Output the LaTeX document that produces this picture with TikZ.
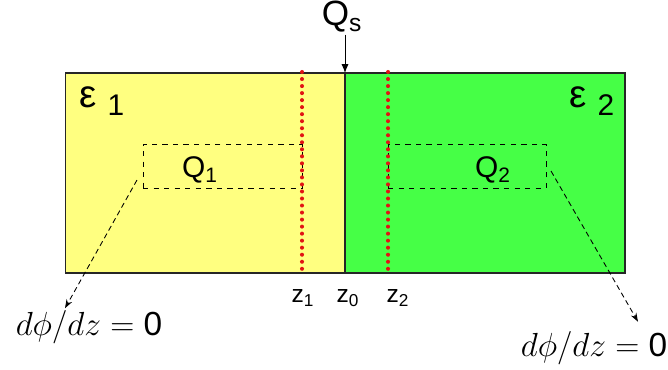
\documentclass[tikz,border=0pt]{standalone}
\usepackage{fix-cm}
\usepackage{fontspec}
\setmainfont{Liberation Sans}
\usetikzlibrary{arrows.meta,positioning}
\definecolor{mediumone}{RGB}{255,255,128}
\definecolor{mediumtwo}{RGB}{70,255,70}
\definecolor{planered}{RGB}{225,20,20}

\begin{document}
\begin{tikzpicture}[
            x=0.02cm, y=-0.02cm,
            medium/.style={rectangle, draw=black!85, line width=0.6pt, minimum width=5.6cm, minimum height=4cm, inner sep=0pt},
            region/.style={rectangle, draw, dashed, line width=0.5pt, minimum height=0.88cm, inner sep=0pt},
            plane/.style={draw=planered, line width=2.3pt, line cap=round, dash pattern=on 0pt off 4pt},
            lbl/.style={font=\fontsize{17}{19}\selectfont, inner sep=1pt},
            zlbl/.style={font=\fontsize{14}{16}\selectfont, inner sep=1pt},
            cond/.style={font=\fontsize{19}{21}\selectfont, inner sep=1pt},
            arrow/.style={-{Latex[length=5pt,width=4pt]}, line width=0.5pt},
            hint/.style={-{Stealth[length=5pt,width=3.5pt]}, densely dashed, line width=0.5pt}
        ]
            \useasboundingbox (0,0) rectangle (668,369);

            % --- MEIOS ---
            \node[medium, fill=mediumone] (left) at (205,173) {};
            \node[medium, fill=mediumtwo] (right) at (485,173) {};
            \node[lbl] (eps1) at (102,101) {{\fontsize{22}{24}\selectfont ε}\hspace{6pt}\raisebox{-5pt}{1}};
            \node[lbl] (eps2) at (592,101) {{\fontsize{22}{24}\selectfont ε}\hspace{6pt}\raisebox{-5pt}{2}};

            % --- REGIOES ---
            \node[region, minimum width=3.18cm] (box1) at (222.5,166) {};
            \node[region, minimum width=3.16cm] (box2) at (467,166) {};
            \node[lbl] (q1) at (200,170) {Q\textsubscript{1}};
            \node[lbl] (q2) at (493,170) {Q\textsubscript{2}};

            % --- PLANOS ---
            \draw[plane] (302,72) -- (302,272);
            \draw[plane] (388,72) -- (388,272);

            % --- FONTE ---
            \node[font=\fontsize{20}{22}\selectfont, inner sep=1pt] (qs) at (342,17) {Q\textsubscript{s}};
            \coordinate (top) at (345,73);
            \draw[arrow] (qs.south -| top) -- (top);

            % --- POSICOES ---
            \node[zlbl] (z1) at (303,298) {z\textsubscript{1}};
            \node[zlbl] (z0) at (348,298) {z\textsubscript{0}};
            \node[zlbl] (z2) at (398,298) {z\textsubscript{2}};

            % --- CONDICOES ---
            \node[cond] (bc1) at (89,327) {$d\phi/dz =$ 0};
            \node[cond] (bc2) at (594,348) {$d\phi/dz =$ 0};
            \coordinate (t1) at (137,180);
            \coordinate (t2) at (551,171);
            \draw[hint] (t1) -- ([xshift=-0.48cm]bc1.north);
            \draw[hint] (t2) -- ([xshift=0.88cm,yshift=0.15cm]bc2.north);

        \end{tikzpicture}
\end{document}
